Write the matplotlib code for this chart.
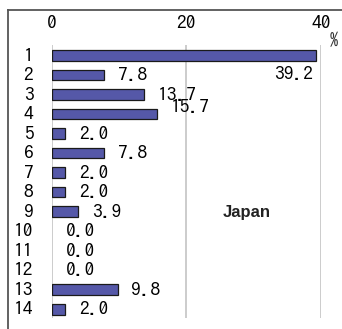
import matplotlib

matplotlib.use("Agg")
import matplotlib.pyplot as plt
from matplotlib.lines import Line2D

categories = ["1", "2", "3", "4", "5", "6", "7", "8", "9", "10", "11", "12", "13", "14"]
values = [39.2, 7.8, 13.7, 15.7, 2.0, 7.8, 2.0, 2.0, 3.9, 0.0, 0.0, 0.0, 9.8, 2.0]
x_ticks = [0, 20, 40]

jp = ["IPAGothic", "DejaVu Sans"]

fig = plt.figure(figsize=(3.42, 3.29), dpi=100)
ax = fig.add_axes([0.1506, 0.0334, 0.788, 0.8298])

pos = list(range(1, len(categories) + 1))
edges = ["#1a1a1a" if v > 0 else "none" for v in values]
ax.barh(pos, values, height=0.56, color="#5558A8", edgecolor=edges, linewidth=0.9, zorder=3)
ax.set_xlim(0, 40)
ax.set_ylim(14.46, 0.46)

for s in ax.spines.values():
    s.set_visible(False)
for x in x_ticks:
    ax.axvline(x, color="#c8c8c8", lw=1.3, zorder=1)

ax.xaxis.tick_top()
ax.set_xticks(x_ticks, [str(t) for t in x_ticks], fontsize=14, family=jp)
ax.set_yticks(pos, categories, fontsize=14, family=jp)
ax.tick_params(axis="x", length=0, pad=10)
ax.tick_params(axis="y", length=0, pad=13)
for lab in ax.get_yticklabels():
    lab.set_verticalalignment("center")

for i, (p, v) in enumerate(zip(pos, values)):
    txt = f"{v:.1f}"
    if i == 0:
        ax.annotate(txt, (v, p), xytext=(-2, -13), textcoords="offset points",
                    ha="right", va="center", fontsize=14, family=jp)
    else:
        dy = 5 if i == 3 else 0
        ax.annotate(txt, (v, p), xytext=(10, dy), textcoords="offset points",
                    ha="left", va="center", fontsize=14, family=jp)

fig.text(334 / 342, 1 - 40 / 329, "%", fontsize=12, ha="center", va="center",
         family=jp, color="#333333")
ax.text(0.725, 0.385, "Japan", transform=ax.transAxes, fontsize=12, fontweight="bold",
        ha="center", va="center", family="Liberation Sans", color="#222222")

fig.add_artist(Line2D([8 / 342, 8 / 342], [0, 1 - 10 / 329], transform=fig.transFigure,
                      color="#555555", lw=1.3))
fig.add_artist(Line2D([8 / 342, 1], [1 - 10 / 329, 1 - 10 / 329], transform=fig.transFigure,
                      color="#555555", lw=1.3))

fig.savefig("out.png", dpi=100)
